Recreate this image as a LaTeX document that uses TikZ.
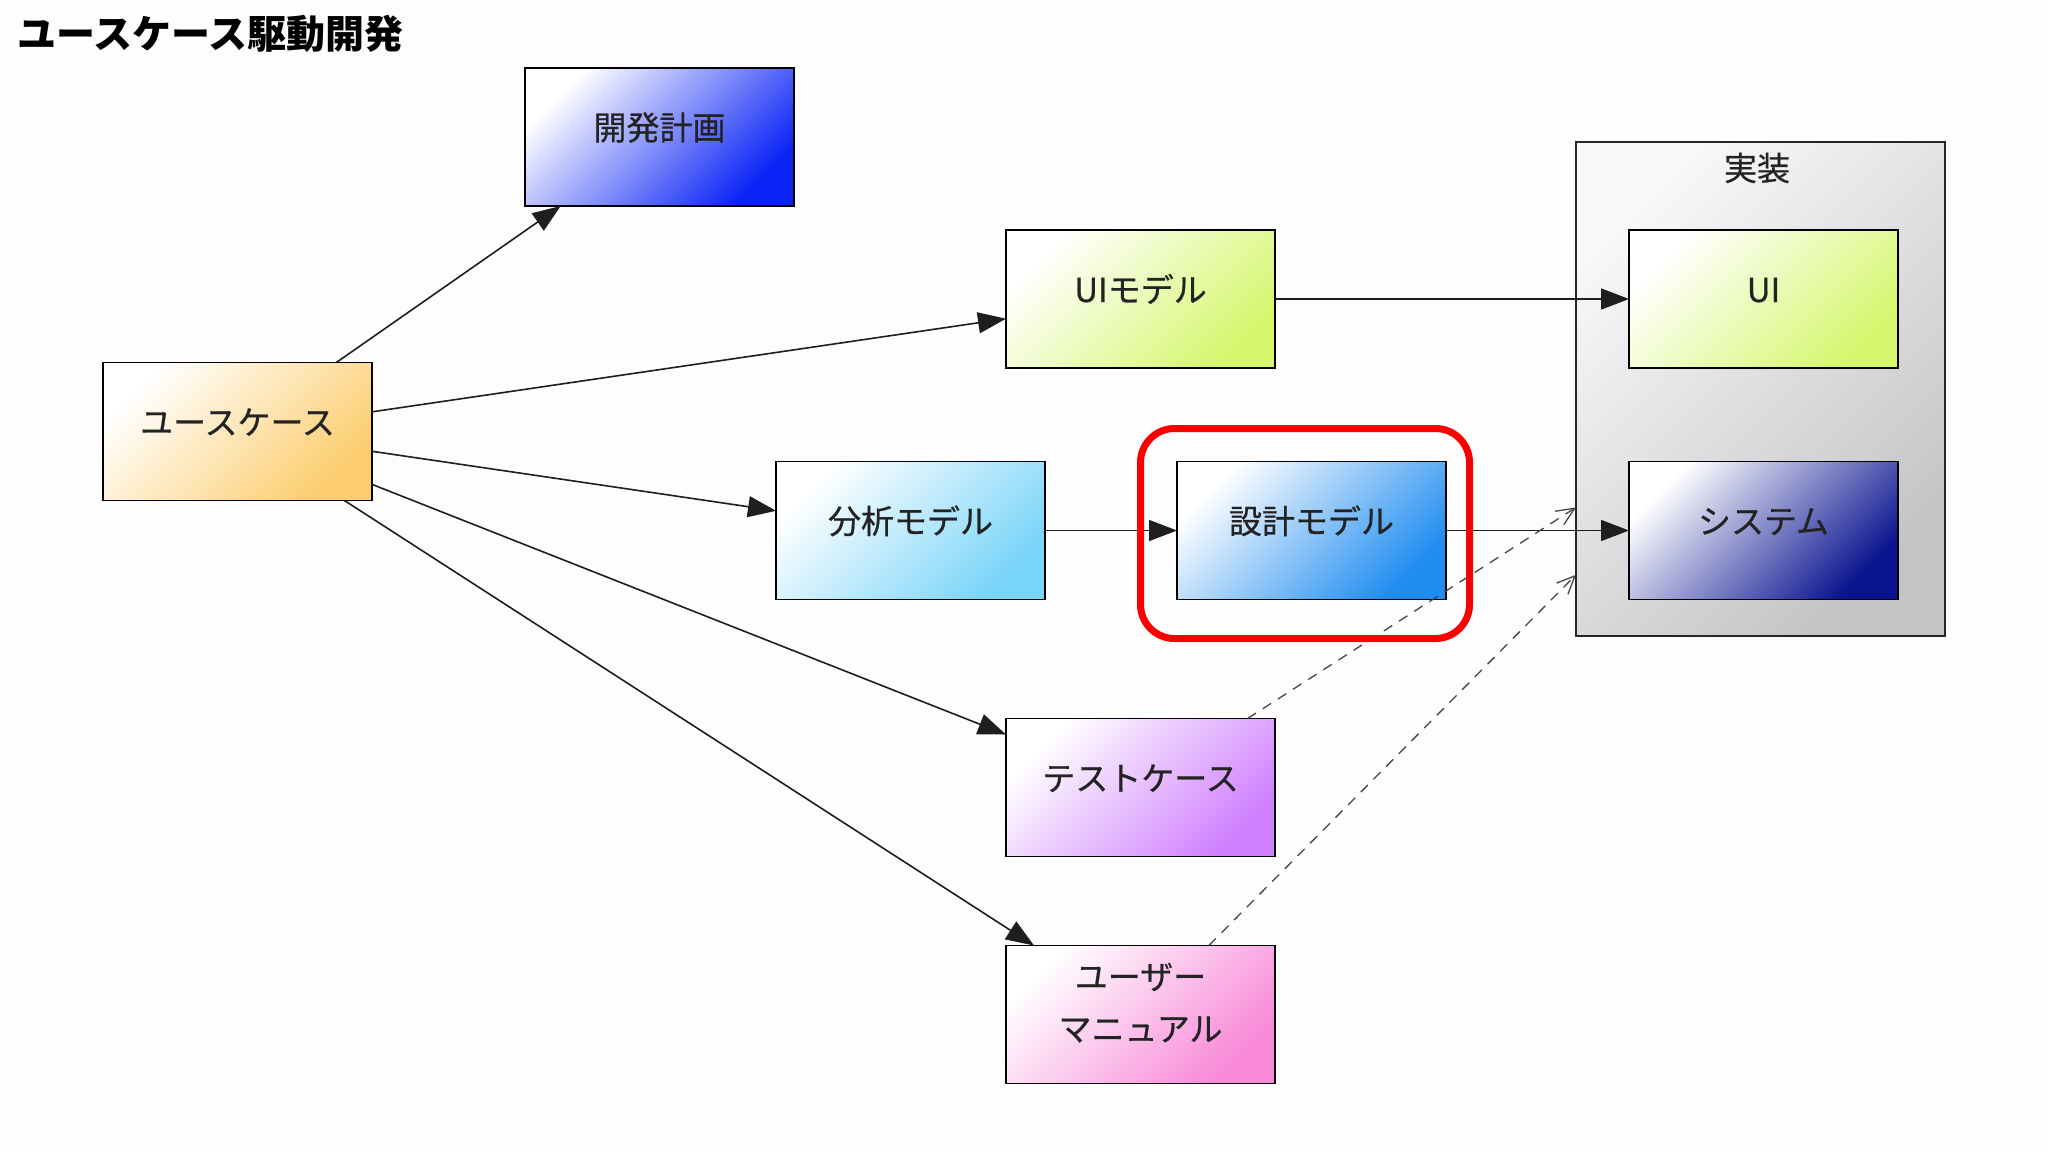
\documentclass[tikz,border=0pt]{standalone}
\usepackage{fontspec}
\setmainfont{Noto Sans CJK JP}
\newfontfamily\jpmed{Noto Sans CJK JP}[FakeBold=0.6]
\usetikzlibrary{arrows.meta,calc}
\definecolor{cplan}{RGB}{10,35,245}
\definecolor{cuc}{RGB}{252,205,110}
\definecolor{clime}{RGB}{214,246,110}
\definecolor{cana}{RGB}{120,212,248}
\definecolor{cdes}{RGB}{30,140,240}
\definecolor{ctest}{RGB}{208,128,255}
\definecolor{cman}{RGB}{248,136,216}
\definecolor{csys}{RGB}{10,20,144}
\definecolor{cimpl}{RGB}{196,196,198}
\definecolor{cimpltop}{RGB}{248,248,250}
\definecolor{ctext}{RGB}{35,35,35}
\definecolor{cline}{RGB}{30,30,30}
\definecolor{cdash}{RGB}{70,70,70}
\definecolor{cred}{RGB}{250,0,0}
\definecolor{cbg}{RGB}{253,253,253}
\begin{document}
\begin{tikzpicture}[x=0.5pt,y=-0.5pt,
  box/.style={draw=black,line width=0.9pt,minimum width=134.5pt,minimum height=69pt,
    inner sep=0pt,outer sep=0pt,top color=white,bottom color=#1,shading angle=45,
    font=\jpmed\fontsize{16.5}{26}\selectfont,text=ctext,align=center},
  one/.style={text height=11pt,text depth=8pt},
  sarrow/.style={draw=cline,line width=0.8pt,-{Triangle[length=14pt,width=10.5pt]}},
  darrow/.style={draw=cdash,line width=0.65pt,dash pattern=on 5pt off 4pt,
    -{Straight Barb[length=9pt,width=8pt,line width=0.65pt]}},
  container/.style={draw=black!85,line width=0.8pt,minimum width=184.5pt,minimum height=247pt,
    inner sep=0pt,outer sep=0pt,top color=cimpltop,bottom color=cimpl,shading angle=45},
  highlight/.style={draw=cred,line width=3.5pt,rounded corners=17pt,minimum width=164.5pt,
    minimum height=105pt,inner sep=0pt},
]
\fill[cbg] (0,0) rectangle (2048,1152);
\useasboundingbox (0,0) rectangle (2048,1152);

\node[anchor=west,font=\fontsize{19.5}{22}\selectfont\bfseries,text=black] (title) at (10,34) {ユースケース駆動開発};

\node[container] (impl) at (1760.5,389) {};
\node[font=\jpmed\fontsize{16.5}{20}\selectfont,text=ctext] (impllabel) at (1757,168) {実装};

\node[box=cplan,one] (plan) at (659.5,137) {開発計画};
\node[box=cuc,one] (uc) at (237.5,431.5) {ユースケース};
\node[box=clime,one] (uim) at (1140.5,299) {UIモデル};
\node[box=cana,one] (ana) at (910.5,530.5) {分析モデル};
\node[box=cdes,one] (des) at (1311.5,530.5) {設計モデル};
\node[box=ctest,one] (test) at (1140.5,787.5) {テストケース};
\node[box=cman,text depth=12.5pt] (man) at (1140.5,1014.5) {ユーザー\\マニュアル};
\node[box=clime,one] (ui) at (1763.5,299) {UI};
\node[box=csys,one] (sys) at (1763.5,530.5) {システム};

\draw[sarrow] (uc) -- (plan);
\draw[sarrow] (uc) -- (uim);
\draw[sarrow] (uc) -- (ana);
\draw[sarrow] (uc) -- (test);
\draw[sarrow] (uc) -- (man);
\draw[sarrow] (uim) -- (ui);
\draw[sarrow] (ana) -- (des);
\draw[sarrow] (des) -- (sys);
\draw[darrow] (test) -- (impl);
\draw[darrow] (man) -- (impl);

\node[highlight] (hl) at (1305,533.5) {};
\end{tikzpicture}
\end{document}
